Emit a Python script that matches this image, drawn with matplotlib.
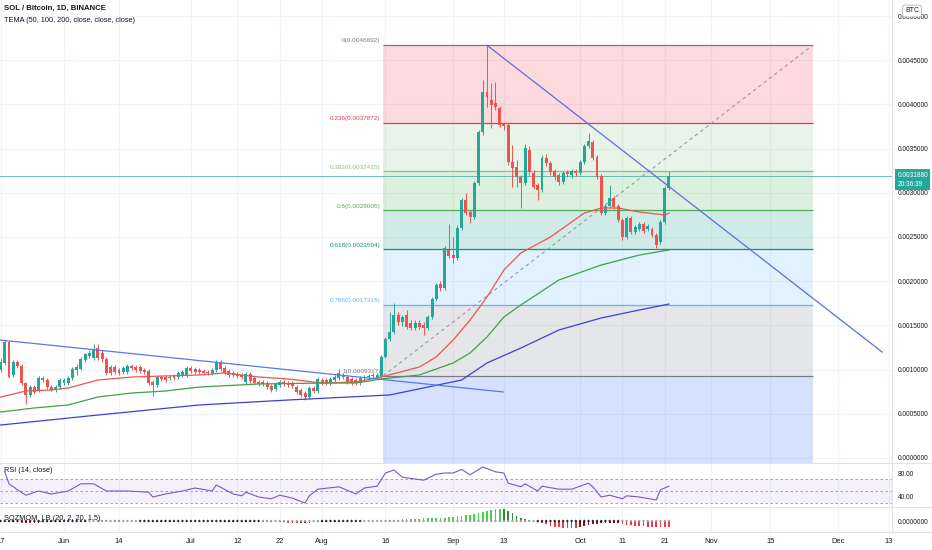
import numpy as np
import matplotlib
matplotlib.use("Agg")
import matplotlib.pyplot as plt
import matplotlib.transforms as mtransforms
from matplotlib.lines import Line2D

plt.rcParams['font.family'] = ['Liberation Sans Narrow', 'Liberation Sans', 'DejaVu Sans']

# ---------------- data ----------------
UNIT = 1e-6          # price arrays are in micro-BTC
FIRST_DAY = -15      # day index of first candle (day 0 = 1 Jun 2021)

opens = [995, 1075, 1312, 939, 1086, 1041, 848, 713, 803, 769, 882, 882, 803, 769, 803,
         848, 848, 905, 995, 1007, 1109, 1154, 1131, 1244, 1188, 1120, 1029, 1029, 995, 973,
         973, 1041, 1029, 1029, 995, 984, 860, 826, 916, 916, 905, 928, 916, 939, 939,
         1018, 1007, 995, 984, 973, 962, 995, 1086, 1018, 984, 962, 950, 939, 860, 950,
         905, 860, 860, 848, 814, 781, 826, 860, 848, 848, 803, 769, 735, 690, 792,
         758, 882, 882, 848, 882, 905, 916, 916, 894, 882, 848, 905, 916, 928, 905,
         916, 1143, 1346, 1425, 1618, 1538, 1618, 1527, 1471, 1527, 1504, 1471, 1595, 1799, 1968,
         1923, 2353, 2296, 2262, 2602, 2918, 2783, 2726, 3111, 3688, 4140, 4050, 4016, 3959, 3778,
         3767, 3348, 3292, 3179, 3111, 3484, 3224, 3088, 3032, 3394, 3337, 3247, 3201, 3122, 3235,
         3201, 3247, 3224, 3348, 3529, 3575, 3405, 3190, 2771, 2851, 2941, 2851, 2692, 2500, 2715,
         2557, 2590, 2647, 2590, 2590, 2523, 2443, 2670, 3054]
closes = [1086, 1312, 916, 1086, 1041, 848, 713, 803, 747, 905, 905, 803, 769, 803, 882,
          882, 905, 1007, 1029, 1120, 1176, 1188, 1222, 1131, 1120, 962, 962, 973, 962, 1018,
          1041, 1018, 995, 984, 973, 848, 826, 916, 894, 882, 916, 905, 962, 973, 1018,
          984, 973, 973, 962, 962, 995, 1086, 1007, 962, 939, 939, 928, 916, 950, 871,
          848, 837, 837, 803, 769, 837, 860, 837, 826, 814, 747, 713, 690, 792, 758,
          894, 848, 848, 894, 916, 962, 939, 860, 848, 848, 905, 916, 928, 939, 939,
          1143, 1346, 1425, 1618, 1538, 1595, 1482, 1471, 1527, 1482, 1471, 1595, 1799, 1957, 1923,
          2376, 2285, 2262, 2602, 2918, 2771, 2726, 3111, 3688, 4140, 4084, 3993, 3971, 3767, 3756,
          3348, 3280, 3179, 3111, 3507, 3235, 3066, 3032, 3394, 3337, 3235, 3179, 3122, 3224, 3213,
          3247, 3224, 3348, 3529, 3586, 3394, 3179, 2771, 2851, 2941, 2839, 2692, 2500, 2715, 2557,
          2613, 2647, 2568, 2624, 2523, 2409, 2670, 3054, 3188]
highs = [1131, 1335, 1324, 1109, 1109, 1063, 860, 826, 826, 928, 928, 905, 826, 826, 905,
         905, 928, 1029, 1063, 1143, 1188, 1222, 1290, 1290, 1222, 1143, 1052, 1052, 1018, 1041,
         1063, 1063, 1052, 1052, 1018, 1007, 882, 939, 939, 939, 939, 950, 984, 995, 1041,
         1041, 1029, 1018, 1007, 995, 1018, 1109, 1109, 1041, 1007, 984, 973, 962, 973, 973,
         928, 882, 882, 871, 837, 860, 882, 882, 871, 871, 826, 792, 758, 814, 814,
         916, 905, 905, 916, 939, 1007, 962, 939, 916, 905, 928, 939, 950, 962, 962,
         1165, 1369, 1652, 1753, 1652, 1618, 1674, 1561, 1561, 1561, 1538, 1618, 1821, 1980, 2002,
         2398, 2647, 2500, 2636, 2941, 2998, 2805, 3133, 3710, 4276, 4669, 4242, 4253, 3982, 3801,
         3790, 3541, 3371, 3201, 3552, 3529, 3258, 3111, 3427, 3439, 3360, 3269, 3224, 3247, 3258,
         3269, 3269, 3371, 3552, 3676, 3597, 3427, 3213, 2873, 3088, 2964, 2873, 2715, 2737, 2737,
         2636, 2670, 2670, 2647, 2613, 2545, 2692, 3077, 3247]
lows = [973, 1052, 905, 916, 1018, 826, 611, 690, 724, 747, 860, 781, 758, 747, 781,
        826, 826, 882, 939, 995, 1086, 1131, 1109, 1109, 1086, 939, 939, 950, 939, 950,
        950, 995, 973, 962, 950, 826, 701, 803, 871, 860, 882, 882, 894, 916, 916,
        962, 950, 950, 939, 939, 939, 973, 984, 939, 916, 916, 905, 894, 837, 848,
        826, 814, 814, 781, 747, 758, 803, 814, 803, 792, 724, 690, 656, 667, 735,
        735, 826, 826, 826, 860, 882, 894, 837, 826, 826, 826, 882, 894, 905, 894,
        905, 1131, 1324, 1403, 1504, 1493, 1459, 1448, 1448, 1459, 1391, 1448, 1572, 1776, 1889,
        1900, 2262, 2206, 2240, 2579, 2749, 2658, 2704, 3088, 3654, 3971, 3733, 3937, 3744, 3710,
        3314, 3066, 3066, 2828, 3088, 3201, 3043, 2918, 3009, 3303, 3201, 3145, 3088, 3100, 3179,
        3168, 3190, 3201, 3326, 3507, 3371, 3156, 2749, 2749, 2828, 2817, 2670, 2466, 2477, 2534,
        2534, 2568, 2545, 2568, 2500, 2375, 2421, 2647, 3032]

tema50_days = [-15, -9, -3, 1, 8, 16, 24, 32, 38, 46, 53, 61, 69, 75, 84, 88, 92, 96, 100, 104,
               108, 115, 123, 127, 131, 136, 142, 143]
tema50_vals = [690, 758, 769, 792, 882, 916, 928, 939, 962, 916, 894, 848, 860, 916, 1029, 1143,
               1335, 1561, 1821, 2127, 2319, 2500, 2771, 2828, 2828, 2783, 2749, 2771]
tema100_days = [-15, -7, 1, 8, 16, 24, 32, 46, 61, 69, 75, 84, 92, 96, 100, 104, 108, 117, 127,
                136, 143]
tema100_vals = [520, 566, 600, 690, 735, 758, 803, 837, 848, 848, 894, 939, 1075, 1188, 1369,
                1595, 1731, 2014, 2183, 2296, 2353]
tema200_days = [-15, 8, 32, 53, 77, 94, 100, 108, 117, 127, 136, 143]
tema200_vals = [373, 486, 600, 656, 713, 882, 1075, 1244, 1448, 1584, 1674, 1742]

rsi_days = [-14, -13, -11, -9, -6, -3, 1, 4, 7, 10, 15, 20, 21, 24, 28, 31, 35, 36, 40, 42, 43,
            46, 49, 51, 54, 57, 58, 60, 65, 69, 71, 74, 76, 78, 80, 85, 88, 90, 92, 94, 96, 99,
            102, 104, 105, 108, 109, 112, 113, 117, 120, 124, 125, 127, 129, 132, 133, 136, 140,
            141, 143]
rsi_vals = [82, 62, 52, 43, 50, 45, 50, 62, 62, 50, 50, 48, 40, 45, 50, 55, 50, 60, 45, 42, 48,
            40, 37, 43, 38, 30, 42, 53, 57, 45, 55, 58, 80, 85, 73, 68, 78, 80, 80, 86, 77, 90,
            82, 80, 63, 57, 62, 50, 58, 53, 53, 63, 57, 40, 43, 37, 42, 40, 35, 52, 58]

sqz_mom = [-40, -50, -60, -60, -70, -80, -80, -90, -90, -80, -70, -60, -50, -40, -30, -20, -10,
           0, 10, 20, 20,
           30, 40, 50, 50, 50, 40, 40, 30, 20, 10, 0, -10,
           -20, -30, -40, -50, -50, -40, -30, -30, -20, -20, -20, -20, -20, -10, -10, -10, -20,
           -20, -20, -30, -30, -30, -40, -40, -40, -40, -50, -50, -50,
           -50, -60, -60, -70, -70, -70, -80, -80, -90, -90, -90, -80, -70, -60, -50, -40,
           -30, -30, -20, -20, -20, -10, -10, -10, 0, 0, 10, 10, 20,
           30, 45, 60, 70, 80, 90, 100, 110, 120, 130, 140, 150, 155, 160, 170, 190, 210, 230,
           250, 280, 310, 350, 400, 450, 510, 560, 600, 610, 590, 500, 380, 250, 170, 100, 60, 20,
           -40, -90, -160, -230, -280, -310, -330, -345, -355, -360,
           -300, -250, -200, -160, -130, -110, -100, -95, -90, -88,
           -150, -190, -220, -240, -255, -265, -275, -285, -292, -298, -304, -310]
sqz_on_ranges = [(-15, 5), (18, 46), (61, 70), (112, 131)]

fib_high = 0.0046692
fib_low = 0.0009317
fib_levels = [0, 0.236, 0.382, 0.5, 0.618, 0.786, 1, 1.618]
fib_names = ["0", "0.236", "0.382", "0.5", "0.618", "0.786", "1", "1.618"]
fib_colors = ['#787b86', '#f23645', '#81c784', '#4caf50', '#089981', '#64b5f6', '#787b86', '#2962ff']
fib_span = [75.5, 177]

trend1_days = [-15.13, 103.8]
trend1_vals = [1335, 747]
trend2_days = [100, 193.4]
trend2_vals = [4669, 1199]

last_price = 0.0031880
countdown = "20:36:39"

xtick_days = [-15, 0, 13, 30, 41, 51, 61, 76, 92, 104, 122, 132, 142, 153, 167, 183, 195]
xtick_labels = ["17", "Jun", "14", "Jul", "12", "22", "Aug", "16", "Sep", "13", "Oct", "11", "21",
                "Nov", "15", "Dec", "13"]

# ---------------- figure ----------------
W, H = 932, 550
fig = plt.figure(figsize=(W / 100, H / 100), dpi=100)
fig.patch.set_facecolor('white')


def px_axes(x0, y0, x1, y1):
    return fig.add_axes([x0 / W, 1 - y1 / H, (x1 - x0) / W, (y1 - y0) / H])


ax = px_axes(0, 0, 892, 463)
axr = px_axes(0, 463, 892, 507)
axs = px_axes(0, 507, 892, 532)

XL = (-15.13, 195.74)
TXT = '#131722'
GRID = '#f0f3fa'
for a in (ax, axr, axs):
    a.set_xlim(*XL)
    for s in a.spines.values():
        s.set_visible(False)
    a.set_facecolor('white')
    for xd in xtick_days:
        a.axvline(xd, color=GRID, lw=0.8, zorder=0)
    a.yaxis.tick_right()
    a.tick_params(axis='y', length=0, pad=4, labelsize=4.7, labelcolor=TXT)
    a.tick_params(axis='x', length=0)
    a.set_xticks(xtick_days)
    a.set_xticklabels([])

# ---- main pane ----
ax.set_ylim(-0.0000566, 0.005181)
yt = np.arange(0, 0.00501, 0.0005)
ax.set_yticks(yt)
ax.set_yticklabels([f"{v:.7f}" for v in yt])
for v in yt:
    ax.axhline(v, color=GRID, lw=0.8, zorder=0)

days = np.arange(FIRST_DAY, FIRST_DAY + len(closes))
o = np.array(opens) * UNIT
c = np.array(closes) * UNIT
h = np.array(highs) * UNIT
l = np.array(lows) * UNIT

# fibonacci retracement
rng = fib_high - fib_low
fib_prices = [fib_high - lv * rng for lv in fib_levels]
for i in range(len(fib_levels) - 1):
    ax.fill_between(fib_span, fib_prices[i + 1], fib_prices[i], color=fib_colors[i + 1],
                    alpha=0.19, lw=0, zorder=1)
for i in range(len(fib_levels) - 1):
    p = fib_prices[i]
    ax.hlines(p, fib_span[0], fib_span[1], color=fib_colors[i], lw=0.9, zorder=2)
    ax.text(fib_span[0] - 0.7, p + 0.00002, f"{fib_names[i]}({p:.7f})", ha='right', va='bottom',
            fontsize=4.6, color=fib_colors[i], zorder=6)
ax.plot(fib_span, [fib_low, fib_high], color='#9598a1', lw=0.8, ls=(0, (3, 3)), zorder=3)

# price line
ax.axhline(last_price, color='#26a69a', lw=0.6, alpha=0.8, zorder=2)

# candles
up = c >= o
cols = np.where(up, '#26a69a', '#ef5350')
ax.vlines(days, l, h, colors=cols, lw=0.7, zorder=4)
bh = np.maximum(np.abs(c - o), 0.000012)
ax.bar(days, bh, bottom=np.minimum(o, c), width=0.7, color=cols, lw=0, zorder=5)

# TEMAs
ax.plot(tema50_days, np.array(tema50_vals) * UNIT, color='#f05350', lw=0.9, zorder=6)
ax.plot(tema100_days, np.array(tema100_vals) * UNIT, color='#43a047', lw=0.9, zorder=6)
ax.plot(tema200_days, np.array(tema200_vals) * UNIT, color='#3f3fd8', lw=0.9, zorder=6)

# trendlines
ax.plot(trend1_days, np.array(trend1_vals) * UNIT, color='#5b78e6', lw=0.9, zorder=7)
ax.plot(trend2_days, np.array(trend2_vals) * UNIT, color='#5b6fe0', lw=0.9, zorder=7)

# last price label
trans = mtransforms.blended_transform_factory(ax.transAxes, ax.transData)
trans = mtransforms.offset_copy(trans, fig=fig, x=0, y=4.5, units='dots')
ax.text(1.006, last_price, f"{last_price:.7f}\n{countdown}", transform=trans, ha='left', va='top',
        fontsize=4.7, color='white', linespacing=1.4, clip_on=False, zorder=20,
        bbox=dict(boxstyle='square,pad=0.35', fc='#26a69a', ec='none'))

# ---- RSI pane ----
axr.set_ylim(23.3, 96.7)
axr.set_yticks([80, 40])
axr.set_yticklabels(["80.00", "40.00"])
axr.axhspan(30, 70, color='#7e57c2', alpha=0.08, lw=0, zorder=0.5)
for lv in (70, 50, 30):
    axr.axhline(lv, color='#9598a1', lw=0.6, ls=(0, (3, 3)), zorder=1)
axr.plot(rsi_days, rsi_vals, color='#7e57c2', lw=0.8, zorder=3)

# ---- SQZMOM pane ----
axs.set_ylim(-0.00055, 0.0007)
axs.set_yticks([0])
axs.set_yticklabels(["0.0000000"])
mom = np.array(sqz_mom) * UNIT
prev = np.concatenate([[mom[0]], mom[:-1]])
bcols = []
for v, pv in zip(mom, prev):
    if v > 0:
        bcols.append('#3ddc3d' if v > pv else '#2e8b3e')
    else:
        bcols.append('#f23645' if v < pv else '#801a1a')
axs.bar(days, mom, width=0.4, color=bcols, lw=0, zorder=2)
dcols = []
for d in days:
    on = any(a0 <= d <= a1 for a0, a1 in sqz_on_ranges)
    dcols.append('#1e222d' if on else '#9aa09a')
axs.scatter(days, np.zeros_like(mom), s=2.2, marker='D', c=dcols, lw=0, zorder=3)
axs.set_xticklabels(xtick_labels)
axs.tick_params(axis='x', labelsize=5.4, labelcolor=TXT, pad=4)

# ---- texts ----
fig.text(4 / W, 1 - 8 / H, "SOL / Bitcoin, 1D, BINANCE", fontsize=5.6, color=TXT, va='center',
         ha='left', weight='bold')
fig.text(4 / W, 1 - 20 / H, "TEMA (50, 100, 200, close, close, close)", fontsize=5.3, color=TXT,
         va='center', ha='left')
fig.text(4 / W, 1 - 470 / H, "RSI (14, close)", fontsize=5.3, color=TXT, va='center', ha='left')
fig.text(4 / W, 1 - 518 / H, "SQZMOM_LB (20, 2, 20, 1.5)", fontsize=5.3, color=TXT, va='center',
         ha='left')
fig.text(912 / W, 1 - 11 / H, "BTC", fontsize=5.0, color=TXT, va='center', ha='center',
         bbox=dict(boxstyle='round,pad=0.35', fc='white', ec='#b2b5be', lw=0.6))

# separators
SEP = '#e0e3eb'
for yy in (463, 507, 532):
    fig.add_artist(Line2D([0, 1], [1 - yy / H, 1 - yy / H], color=SEP, lw=0.8))
fig.add_artist(Line2D([892 / W, 892 / W], [1 - 532 / H, 1], color=SEP, lw=0.8))

fig.savefig("out.png", dpi=100, facecolor='white')
